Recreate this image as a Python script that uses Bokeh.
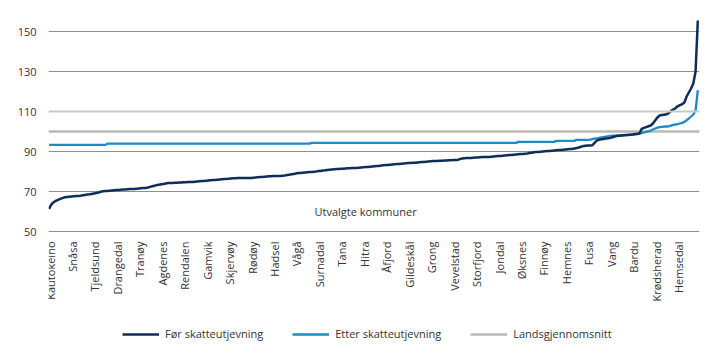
import numpy as np
from bokeh.plotting import figure
from bokeh.models import (Range1d, FixedTicker, Legend, LegendItem, Label, Span,
                          ColumnDataSource)
from bokeh.core.properties import value
from bokeh.embed import file_html
from bokeh.resources import INLINE

# ---- data -------------------------------------------------------------
labels = ["Kautokeino", "Snåsa", "Tjeldsund", "Drangedal", "Tranøy", "Agdenes",
          "Rendalen", "Gamvik", "Skjervøy", "Rødøy", "Hadsel", "Vågå", "Surnadal",
          "Tana", "Hitra", "Åfjord", "Gildeskål", "Grong", "Vevelstad", "Storfjord",
          "Jondal", "Øksnes", "Finnøy", "Hemnes", "Fusa", "Vang", "Bardu",
          "Krødsherad", "Hemsedal"]
label_every = 10

for_skatt = [
    61.3, 63.5, 64.6, 65.3, 65.8, 66.3, 66.7, 67.1, 67.3, 67.4,
    67.5, 67.6, 67.7, 67.8, 67.9, 68.1, 68.3, 68.5, 68.6, 68.8,
    69.0, 69.2, 69.5, 69.9, 70.1, 70.2, 70.3, 70.4, 70.5, 70.6,
    70.7, 70.8, 70.9, 71.0, 71.0, 71.1, 71.2, 71.3, 71.3, 71.4,
    71.5, 71.6, 71.7, 71.8, 72.0, 72.3, 72.6, 72.9, 73.2, 73.4,
    73.6, 73.8, 74.0, 74.2, 74.3, 74.3, 74.4, 74.4, 74.5, 74.5,
    74.6, 74.6, 74.7, 74.7, 74.8, 74.9, 75.0, 75.1, 75.2, 75.3,
    75.4, 75.5, 75.6, 75.7, 75.8, 75.9, 76.0, 76.1, 76.2, 76.3,
    76.4, 76.5, 76.6, 76.6, 76.7, 76.7, 76.7, 76.7, 76.7, 76.8,
    76.8, 76.9, 77.0, 77.1, 77.2, 77.3, 77.4, 77.5, 77.6, 77.6,
    77.7, 77.7, 77.8, 77.8, 77.9, 78.0, 78.2, 78.4, 78.6, 78.8,
    79.0, 79.2, 79.3, 79.4, 79.5, 79.6, 79.7, 79.8, 79.9, 80.0,
    80.2, 80.3, 80.5, 80.6, 80.8, 80.9, 81.0, 81.1, 81.2, 81.3,
    81.4, 81.4, 81.5, 81.6, 81.6, 81.7, 81.8, 81.8, 81.9, 82.0,
    82.1, 82.2, 82.3, 82.4, 82.5, 82.6, 82.7, 82.8, 83.0, 83.1,
    83.2, 83.3, 83.4, 83.5, 83.6, 83.7, 83.8, 83.9, 84.0, 84.1,
    84.2, 84.3, 84.4, 84.4, 84.5, 84.6, 84.7, 84.8, 84.9, 85.0,
    85.1, 85.2, 85.3, 85.3, 85.4, 85.4, 85.5, 85.5, 85.6, 85.6,
    85.7, 85.7, 85.8, 86.2, 86.5, 86.6, 86.7, 86.7, 86.8, 86.9,
    87.0, 87.0, 87.1, 87.2, 87.2, 87.3, 87.3, 87.4, 87.5, 87.6,
    87.7, 87.8, 87.9, 88.0, 88.1, 88.2, 88.3, 88.4, 88.5, 88.6,
    88.7, 88.8, 88.9, 89.0, 89.2, 89.4, 89.6, 89.7, 89.8, 89.9,
    90.0, 90.1, 90.2, 90.3, 90.4, 90.5, 90.6, 90.7, 90.8, 90.9,
    91.0, 91.1, 91.2, 91.3, 91.5, 91.7, 92.0, 92.4, 92.7, 92.9,
    93.0, 93.0, 93.1, 94.3, 95.5, 95.8, 96.1, 96.3, 96.5, 96.6,
    96.8, 97.1, 97.5, 97.8, 97.9, 98.0, 98.1, 98.2, 98.3, 98.4,
    98.5, 98.7, 98.8, 99.0, 101.3, 101.8, 102.2, 102.6, 103.0, 104.0,
    105.5, 107.0, 108.0, 108.2, 108.4, 108.6, 109.2, 110.2, 111.0, 111.6,
    112.6, 113.2, 113.6, 114.5, 117.5, 119.5, 121.5, 124.0, 130.0, 155.5,
]

etter_skatt = [
    93.3, 93.3, 93.3, 93.3, 93.3, 93.3, 93.3, 93.3, 93.3, 93.3,
    93.3, 93.3, 93.3, 93.3, 93.3, 93.3, 93.3, 93.3, 93.3, 93.3,
    93.3, 93.3, 93.3, 93.3, 93.3, 93.3, 93.9, 93.9, 93.9, 93.9,
    93.9, 93.9, 93.9, 93.9, 93.9, 93.9, 93.9, 93.9, 93.9, 93.9,
    93.9, 93.9, 93.9, 93.9, 93.9, 93.9, 93.9, 93.9, 93.9, 93.9,
    93.9, 93.9, 93.9, 93.9, 93.9, 93.9, 93.9, 93.9, 93.9, 93.9,
    93.9, 93.9, 93.9, 93.9, 93.9, 93.9, 93.9, 93.9, 93.9, 93.9,
    93.9, 93.9, 93.9, 93.9, 93.9, 93.9, 93.9, 93.9, 93.9, 93.9,
    93.9, 93.9, 93.9, 93.9, 93.9, 93.9, 93.9, 93.9, 93.9, 93.9,
    93.9, 93.9, 93.9, 93.9, 93.9, 93.9, 93.9, 93.9, 93.9, 93.9,
    93.9, 93.9, 93.9, 93.9, 93.9, 93.9, 93.9, 93.9, 93.9, 93.9,
    93.9, 93.9, 93.9, 93.9, 93.9, 93.9, 93.9, 94.3, 94.3, 94.3,
    94.3, 94.3, 94.3, 94.3, 94.3, 94.3, 94.3, 94.3, 94.3, 94.3,
    94.3, 94.3, 94.3, 94.3, 94.3, 94.3, 94.3, 94.3, 94.3, 94.3,
    94.3, 94.3, 94.3, 94.3, 94.3, 94.3, 94.3, 94.3, 94.3, 94.3,
    94.3, 94.3, 94.3, 94.3, 94.3, 94.3, 94.3, 94.3, 94.3, 94.3,
    94.3, 94.3, 94.3, 94.3, 94.3, 94.3, 94.3, 94.3, 94.3, 94.3,
    94.3, 94.3, 94.3, 94.3, 94.3, 94.3, 94.3, 94.3, 94.3, 94.3,
    94.3, 94.3, 94.3, 94.3, 94.3, 94.3, 94.3, 94.3, 94.3, 94.3,
    94.3, 94.3, 94.3, 94.3, 94.3, 94.3, 94.3, 94.3, 94.3, 94.3,
    94.3, 94.3, 94.3, 94.3, 94.3, 94.3, 94.3, 94.3, 94.3, 94.8,
    94.8, 94.8, 94.8, 94.8, 94.8, 94.8, 94.8, 94.8, 94.8, 94.8,
    94.8, 94.8, 94.8, 94.8, 94.8, 94.8, 95.3, 95.3, 95.3, 95.3,
    95.3, 95.3, 95.3, 95.3, 95.3, 95.8, 95.8, 95.8, 95.8, 95.8,
    95.8, 95.9, 96.2, 96.4, 96.6, 96.8, 97.0, 97.2, 97.4, 97.6,
    97.8, 97.9, 97.9, 98.0, 98.0, 98.1, 98.1, 98.2, 98.3, 98.4,
    98.5, 98.6, 98.8, 99.0, 99.2, 99.5, 99.8, 100.1, 100.5, 101.0,
    101.5, 101.9, 102.2, 102.3, 102.4, 102.5, 102.6, 102.9, 103.3, 103.5,
    103.7, 104.0, 104.3, 104.8, 105.6, 106.5, 107.5, 108.5, 110.5, 120.7,
]

landsgjennomsnitt = 100
y_ticks = [50, 70, 90, 110, 130, 150]
x_title = "Utvalgte kommuner"
series_names = ["Før skatteutjevning", "Etter skatteutjevning", "Landsgjennomsnitt"]

# ---- figure -----------------------------------------------------------
FONT = "Open Sans"
DARK = "#0f2d57"
BLUE = "#1b8bc6"
GREY = "#bcb8b3"
TXT = "#333333"

n = len(for_skatt)
x = list(range(n))
y_min, y_max = y_ticks[0], 160
# frame extends below the value axis to hold the category labels and legend
p = figure(width=711, height=358, output_backend="svg", toolbar_location=None,
           x_range=Range1d(-0.25, n - 0.25), y_range=Range1d(-13.5, y_max),
           min_border_left=48, min_border_right=12, min_border_top=11,
           min_border_bottom=0)
p.outline_line_color = None
p.background_fill_color = "white"
p.border_fill_color = "white"

# grid
p.xgrid.visible = False
p.ygrid.ticker = FixedTicker(ticks=[t for t in y_ticks if t != 110])
p.ygrid.grid_line_color = "#8f8f8f"
p.ygrid.grid_line_width = 1
p.add_layout(Span(location=110, dimension="width", line_color="#c9c9c9", line_width=2))

# y axis
p.yaxis.ticker = FixedTicker(ticks=y_ticks)
p.yaxis.axis_line_color = None
p.yaxis.major_tick_line_color = None
p.yaxis.minor_tick_line_color = None
p.yaxis.major_label_text_font = FONT
p.yaxis.major_label_text_font_size = "11px"
p.yaxis.major_label_text_color = TXT
p.yaxis.major_label_standoff = 6
p.xaxis.visible = False

# category labels (rotated), every label_every-th kommune
tick_pos = list(range(0, n, label_every))[:len(labels)]
lab_src = ColumnDataSource(dict(x=tick_pos, y=[y_min] * len(tick_pos), t=labels))
p.text("x", "y", text="t", source=lab_src, angle=np.pi / 2, text_align="right",
       text_baseline="middle", y_offset=10, x_offset=1,
       text_font=value(FONT), text_font_size="11px", text_color=TXT)

# lines
r_avg = p.line(x=[-0.25, n - 0.25], y=[landsgjennomsnitt, landsgjennomsnitt],
               line_color=GREY, line_width=2.5)
src = ColumnDataSource(dict(x=x, fo=for_skatt, et=etter_skatt))
r_et = p.line("x", "et", source=src, line_color=BLUE, line_width=2.3)
r_fo = p.line("x", "fo", source=src, line_color=DARK, line_width=2.5)

# in-plot x title
p.add_layout(Label(x=141, y=60, text=x_title, text_align="center",
                   text_baseline="middle", text_font=FONT, text_font_size="11px",
                   text_color=TXT))

legend = Legend(items=[LegendItem(label=series_names[0], renderers=[r_fo]),
                       LegendItem(label=series_names[1], renderers=[r_et]),
                       LegendItem(label=series_names[2], renderers=[r_avg])],
                orientation="horizontal", location=(74, 17),
                glyph_width=37, glyph_height=14, label_standoff=6, spacing=29,
                padding=0, margin=0, border_line_color=None,
                background_fill_alpha=0,
                label_text_font=FONT, label_text_font_size="11px",
                label_text_color=TXT)
p.add_layout(legend)

open("out.html", "w").write(file_html(p, INLINE))
